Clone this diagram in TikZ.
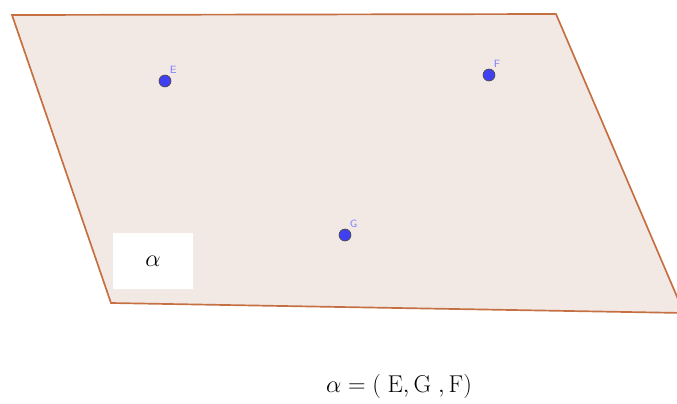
\documentclass[tikz,border=0pt]{standalone}
\usepackage{amsmath,amssymb}
\usepackage{tikz}
\usetikzlibrary{calc,positioning}
\definecolor{planefill}{RGB}{243,233,228}
\definecolor{planeedge}{RGB}{196,112,66}
\definecolor{ptblue}{RGB}{64,64,240}
\definecolor{lblblue}{RGB}{128,128,255}
\tikzset{
    myplane/.style={draw=planeedge,fill=planefill,line width=1.2pt,line join=miter},
    mypoint/.style={circle,fill=ptblue,draw=black!70,line width=0.5pt,inner sep=0pt,minimum size=8.5pt},
    mylabel/.style={text=lblblue,font=\sffamily\fontsize{7.5}{8}\selectfont,inner sep=0pt},
    mybox/.style={fill=white,draw=none,minimum width=2cm,minimum height=1.4cm},
    every node/.style={font=\small}
}
\begin{document}
\begin{tikzpicture}[x=0.025cm,y=-0.025cm]
          \useasboundingbox (0,0) rectangle (677,403);
          % plane, its right corner runs off the edge
          \begin{scope}
            \clip (0,0) rectangle (677,403);
            \coordinate (P1) at (12,15);
            \coordinate (P2) at (556,14);
            \coordinate (P3) at (684,313);
            \coordinate (P4) at (111,303);
            \draw[myplane] (P1)--(P2)--(P3)--(P4)--cycle;
          \end{scope}
          \node[mybox] (box) at (153,261) {};
          \node[font=\fontsize{18}{20}\selectfont] (alpha) at (box.center) {$\alpha$};
          \foreach \P/\x/\y in {E/165/81,F/489/75,G/345/235}{
            \node[mypoint] (\P) at (\x,\y) {};
            \node[mylabel,above right=2pt and 0pt] (l\P) at (\P.north east) {\P};
          }
          \node[font=\fontsize{17}{19}\selectfont] (eq) at (399,386) {$\alpha = (\;\mathrm{E},\mathrm{G}\;,\mathrm{F})$};
        \end{tikzpicture}
\end{document}
